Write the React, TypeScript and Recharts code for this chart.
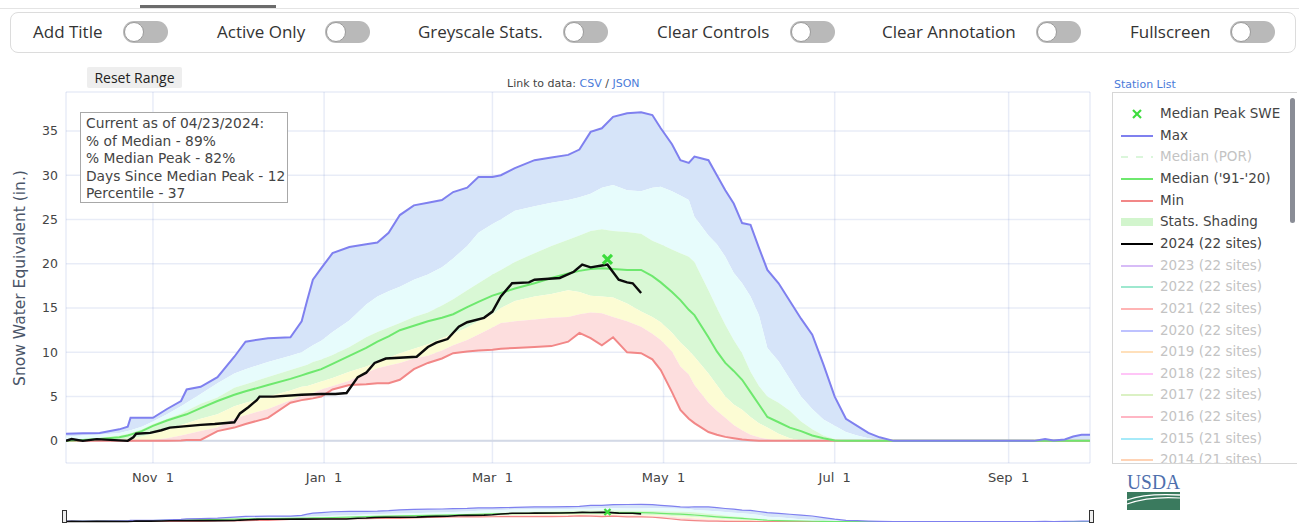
import React from "react";
import {
  Area,
  CartesianGrid,
  ComposedChart,
  Line,
  ReferenceLine,
  Scatter,
  XAxis,
  YAxis,
} from "recharts";

// day index 0 = Oct 1 (water year 2024)
const days = [
  0, 6, 12, 19, 22, 23, 27, 31, 36, 41, 43, 48, 54, 60, 64, 72, 80, 84, 86, 88,
  91, 95, 101, 107, 111, 115, 119, 124, 129, 134, 138, 143, 147, 152, 155, 160,
  167, 173, 179, 183, 187, 191, 195, 200, 205, 209, 212, 216, 219, 222, 224, 229,
  232, 235, 238, 241, 244, 247, 250, 254, 258, 262, 266, 270, 274, 278, 282, 286,
  290, 295, 320, 345, 349, 352, 356, 359, 362, 365,
];
const maxSwe = [
  0.8, 0.85, 0.9, 1.3, 1.6, 2.6, 2.6, 2.6, 3.6, 4.5, 5.8, 6.1, 7.2, 9.5, 11.2,
  11.6, 11.7, 13.5, 15.9, 18.2, 19.5, 21.2, 21.9, 22.2, 22.4, 23.5, 25.5, 26.6,
  26.9, 27.2, 28.1, 28.6, 29.8, 29.8, 30.0, 30.8, 31.7, 32.0, 32.3, 32.9, 34.9,
  35.3, 36.6, 37.0, 37.1, 36.8, 35.3, 33.5, 31.7, 31.4, 32.1, 31.7, 30.0, 28.3,
  26.8, 24.6, 24.4, 21.8, 19.3, 17.8, 15.8, 13.8, 12.0, 8.6, 5.0, 2.5, 1.7, 0.9,
  0.4, 0, 0, 0, 0.2, 0.05, 0.15, 0.5, 0.7, 0.7,
];
const p90 = [
  0.5, 0.6, 0.7, 0.9, 1.1, 1.2, 1.6, 2.2, 3.0, 3.9, 4.3, 5.3, 6.5, 7.6, 8.1, 8.9,
  9.6, 10.0, 10.4, 10.8, 11.3, 12.3, 13.6, 15.4, 16.3, 16.9, 17.4, 18.2, 18.8,
  19.6, 20.6, 22.0, 23.5, 24.5, 25.0, 26.0, 26.5, 26.9, 27.2, 27.5, 27.9, 28.6,
  28.9, 28.3, 28.2, 28.6, 28.7, 28.2, 27.7, 27.2, 25.3, 23.2, 22.2, 20.8, 19.0,
  17.8, 16.3, 14.2, 10.5, 9.0, 7.0, 5.0, 3.6, 2.4, 1.7, 1.0, 0.6, 0.3, 0.1, 0, 0,
  0, 0, 0, 0, 0, 0, 0,
];
const p70 = [
  0.1, 0.2, 0.35, 0.6, 0.8, 0.9, 1.3, 1.9, 2.5, 3.1, 3.4, 4.2, 4.9, 6.0, 6.4, 7.2,
  8.0, 8.4, 8.6, 8.9, 9.2, 9.7, 10.6, 11.7, 12.3, 12.8, 13.3, 14.0, 14.5, 15.3,
  16.0, 17.0, 17.8, 18.8, 19.3, 20.2, 21.2, 22.0, 22.7, 23.2, 23.7, 23.9, 23.7,
  23.6, 23.4, 22.6, 22.2, 21.6, 21.2, 20.8, 20.2, 17.0, 15.0, 13.1, 11.4, 9.9, 7.8,
  6.2, 5.0, 4.3, 3.4, 2.2, 1.3, 0.6, 0.2, 0, 0, 0, 0, 0, 0, 0, 0, 0, 0, 0, 0, 0,
];
const medianSwe = [
  0, 0.1, 0.2, 0.4, 0.6, 0.7, 1.1, 1.7, 2.3, 2.8, 3.0, 3.7, 4.5, 5.2, 5.6, 6.3,
  7.0, 7.4, 7.6, 7.8, 8.1, 8.7, 9.6, 10.5, 11.2, 11.8, 12.5, 13.0, 13.5, 13.9,
  14.3, 15.1, 15.7, 16.4, 16.7, 17.2, 17.8, 18.4, 18.9, 19.2, 19.4, 19.5, 19.4,
  19.3, 19.3, 18.6, 17.9, 16.8, 15.9, 14.8, 14.2, 11.7, 10.1, 8.8, 7.9, 6.9, 5.5,
  4.1, 2.7, 2.1, 1.5, 1.1, 0.6, 0.3, 0.05, 0, 0, 0, 0, 0, 0, 0, 0, 0, 0, 0, 0, 0,
];
const p30 = [
  0, 0, 0.05, 0.15, 0.25, 0.3, 0.5, 0.8, 1.3, 1.8, 2.0, 2.5, 3.0, 3.9, 4.3, 5.0,
  5.7, 6.1, 6.2, 6.4, 6.7, 7.1, 7.8, 8.4, 8.9, 9.4, 9.9, 10.4, 10.9, 11.6, 12.1,
  12.8, 13.5, 14.3, 15.0, 15.8, 16.3, 16.6, 17.0, 16.8, 16.4, 16.3, 16.2, 15.5,
  14.6, 14.0, 13.4, 12.2, 11.1, 10.2, 9.5, 7.6, 6.3, 5.0, 4.1, 3.5, 2.7, 2.0, 1.5,
  0.8, 0.3, 0.05, 0, 0, 0, 0, 0, 0, 0, 0, 0, 0, 0, 0, 0, 0, 0, 0,
];
const p10 = [
  0, 0, 0, 0, 0.02, 0.03, 0.05, 0.1, 0.3, 0.6, 0.75, 1.1, 1.5, 2.5, 2.9, 3.6, 4.6,
  5.1, 5.2, 5.4, 5.8, 6.2, 6.8, 7.7, 8.2, 8.5, 8.8, 9.3, 9.6, 10.2, 10.8, 11.4,
  12.0, 12.8, 13.3, 13.5, 13.7, 13.9, 14.0, 14.3, 14.5, 14.4, 14.0, 13.5, 12.9,
  12.1, 11.4, 10.1, 8.4, 7.5, 6.3, 4.3, 3.4, 2.6, 1.8, 1.2, 0.7, 0.4, 0.2, 0, 0,
  0, 0, 0, 0, 0, 0, 0, 0, 0, 0, 0, 0, 0, 0, 0, 0, 0,
];
const minSwe = [
  0, 0, 0, 0, 0, 0, 0, 0, 0, 0.05, 0.1, 0.1, 1.1, 1.5, 1.9, 2.6, 4.3, 4.6, 4.7,
  4.8, 5.0, 5.8, 6.3, 6.4, 6.5, 6.5, 6.9, 8.1, 8.8, 9.3, 9.9, 10.1, 10.2, 10.3,
  10.4, 10.5, 10.6, 10.7, 11.2, 12.2, 11.6, 10.8, 11.7, 10.0, 9.9, 9.2, 8.0, 5.5,
  3.5, 2.5, 2.0, 1.0, 0.7, 0.45, 0.3, 0.15, 0.08, 0.02, 0, 0, 0, 0, 0, 0, 0, 0, 0,
  0, 0, 0, 0, 0, 0, 0, 0, 0, 0, 0,
];

const days2024 = [
  0, 2, 6, 11, 22, 24, 25, 30, 34, 37, 48, 53, 60, 62, 65, 68, 69, 74, 84, 91, 96,
  100, 104, 107, 110, 114, 125, 129, 132, 136, 140, 143, 149, 152, 155, 159, 165,
  167, 176, 181, 184, 187, 191, 193, 197, 200, 202, 205,
];
const swe2024 = [
  0, 0.2, 0, 0.2, 0, 0.4, 0.8, 0.9, 1.2, 1.5, 1.8, 1.9, 2.1, 3.1, 3.8, 4.6, 5.0,
  5.0, 5.2, 5.3, 5.3, 5.4, 7.2, 7.7, 8.8, 9.3, 9.5, 10.6, 11.1, 11.5, 12.9, 13.4,
  13.9, 14.6, 16.3, 17.8, 17.9, 18.2, 18.4, 19.1, 19.9, 19.6, 19.8, 19.9, 18.2,
  17.9, 17.8, 16.7,
];

const medianPeak = [{ day: 193, swe: 20.5 }];

const tickDays = [31, 92, 152, 213, 274, 336];
const tickLabels = ["Nov \u00a01", "Jan \u00a01", "Mar \u00a01", "May \u00a01", "Jul \u00a01", "Sep \u00a01"];
const yTicks = [0, 5, 10, 15, 20, 25, 30, 35];

const annotationLines = [
  "Current as of 04/23/2024:",
  "% of Median - 89%",
  "% Median Peak - 82%",
  "Days Since Median Peak - 12",
  "Percentile - 37",
];

const controlLabels = [
  "Add Title",
  "Active Only",
  "Greyscale Stats.",
  "Clear Controls",
  "Clear Annotation",
  "Fullscreen",
];

const legendNames = [
  "Median Peak SWE",
  "Max",
  "Median (POR)",
  "Median ('91-'20)",
  "Min",
  "Stats. Shading",
  "2024 (22 sites)",
  "2023 (22 sites)",
  "2022 (22 sites)",
  "2021 (22 sites)",
  "2020 (22 sites)",
  "2019 (22 sites)",
  "2018 (22 sites)",
  "2017 (22 sites)",
  "2016 (22 sites)",
  "2015 (21 sites)",
  "2014 (21 sites)",
];

const statsTable = days.map((day, i) => ({
  day,
  max: maxSwe[i],
  p90: p90[i],
  p70: p70[i],
  median: medianSwe[i],
  p30: p30[i],
  p10: p10[i],
  min: minSwe[i],
}));
const table2024 = days2024.map((day, i) => ({ day, swe: swe2024[i] }));

const FONT_CHART = '"DejaVu Sans", Verdana, sans-serif';
const FONT_UI = '"Open Sans", "Noto Sans", sans-serif';

const C = {
  max: "#7f80ef",
  median: "#6ee86e",
  min: "#f28787",
  blue: "#d6e4f9",
  cyan: "#e7fcfc",
  green: "#d9f8d5",
  yellow: "#fcfcd4",
  red: "#fddede",
  peak: "#3ddc3d",
  grid: "rgba(120,145,205,0.17)",
};

// legend styling: [kind, colour, muted]
const legendStyle: [string, string, boolean][] = [
  ["x", C.peak, false],
  ["line", C.max, false],
  ["dash", "#b8eeb8", true],
  ["line", C.median, false],
  ["line", C.min, false],
  ["band", "#d2f5cd", false],
  ["marker", "#000", false],
  ["marker", "#b07cf0", true],
  ["marker", "#3fd3a0", true],
  ["marker", "#ff6b6b", true],
  ["marker", "#7f86ff", true],
  ["marker", "#ffc27a", true],
  ["marker", "#ff8cf0", true],
  ["marker", "#b9e58a", true],
  ["marker", "#ff6f8a", true],
  ["marker", "#4fd6f5", true],
  ["marker", "#ffa86e", true],
];

const bands: { key: string; lo: string; hi: string; fill: string }[] = [
  { key: "b-blue", lo: "p90", hi: "max", fill: C.blue },
  { key: "b-cyan", lo: "p70", hi: "p90", fill: C.cyan },
  { key: "b-green", lo: "p30", hi: "p70", fill: C.green },
  { key: "b-yellow", lo: "p10", hi: "p30", fill: C.yellow },
  { key: "b-red", lo: "min", hi: "p10", fill: C.red },
];

function PeakMark(props: any) {
  const { cx, cy, size = 5 } = props;
  if (cx == null || cy == null) return null;
  return (
    <g stroke={C.peak} strokeWidth={size > 4 ? 3.2 : 2.2} strokeLinecap="butt">
      <line x1={cx - size} y1={cy - size} x2={cx + size} y2={cy + size} />
      <line x1={cx - size} y1={cy + size} x2={cx + size} y2={cy - size} />
    </g>
  );
}

function Toggle({ left }: { left: number }) {
  return (
    <div
      style={{
        position: "absolute",
        left,
        top: 8,
        width: 45,
        height: 22,
        borderRadius: 11,
        background: "#b9b9b9",
      }}
    >
      <div
        style={{
          position: "absolute",
          left: 1,
          top: 1,
          width: 18,
          height: 18,
          borderRadius: 10,
          background: "#fff",
          border: "1px solid #9a9a9a",
        }}
      />
    </div>
  );
}

function LegendSymbol({ kind, color }: { kind: string; color: string }) {
  return (
    <svg width={36} height={14} style={{ position: "absolute", left: 6, top: 4 }}>
      {kind === "x" && <PeakMark cx={18} cy={7} size={4} />}
      {kind === "line" && <line x1={2} y1={7} x2={34} y2={7} stroke={color} strokeWidth={2} />}
      {kind === "dash" && (
        <line x1={2} y1={7} x2={34} y2={7} stroke={color} strokeWidth={2} strokeDasharray="7 8" />
      )}
      {kind === "band" && <rect x={2} y={3} width={32} height={8} fill={color} />}
      {kind === "marker" && (
        <g>
          <line x1={2} y1={7} x2={34} y2={7} stroke={color} strokeWidth={2} />
          <circle cx={18} cy={7} r={1} fill={color} />
        </g>
      )}
    </svg>
  );
}

function StatsLayers({ thin }: { thin?: boolean }) {
  const w = thin ? 1.2 : 2;
  return [
    ...bands.map((b) => (
      <Area
        key={b.key}
        data={statsTable}
        dataKey={(r: any) => [r[b.lo], r[b.hi]]}
        type="linear"
        stroke="none"
        fill={b.fill}
        fillOpacity={1}
        isAnimationActive={false}
        dot={false}
        activeDot={false}
      />
    )),
    thin ? null : (
      <CartesianGrid key="grid" stroke={C.grid} strokeWidth={1.5} horizontal vertical />
    ),
    thin ? null : <ReferenceLine key="zero" y={0} stroke="#d3d9e6" strokeWidth={2} />,
    <Line
      key="l-min"
      data={statsTable}
      dataKey="min"
      type="linear"
      stroke={C.min}
      strokeWidth={w}
      dot={false}
      isAnimationActive={false}
    />,
    <Line
      key="l-median"
      data={statsTable}
      dataKey="median"
      type="linear"
      stroke={C.median}
      strokeWidth={w}
      dot={false}
      isAnimationActive={false}
    />,
    <Line
      key="l-max"
      data={statsTable}
      dataKey="max"
      type="linear"
      stroke={C.max}
      strokeWidth={w}
      dot={false}
      isAnimationActive={false}
    />,
    <Line
      key="l-2024"
      data={table2024}
      dataKey="swe"
      type="linear"
      stroke="#0b0b0b"
      strokeWidth={thin ? 1.6 : 2.4}
      dot={false}
      isAnimationActive={false}
    />,
    <Scatter
      key="peak"
      data={medianPeak}
      dataKey="swe"
      fill={C.peak}
      shape={(p: any) => <PeakMark {...p} size={thin ? 3 : 4.5} />}
      isAnimationActive={false}
    />,
  ];
}

export default function App() {
  return (
    <div
      style={{
        position: "absolute",
        left: 0,
        top: 0,
        width: 1299,
        height: 523,
        overflow: "hidden",
        background: "#fff",
        fontFamily: FONT_CHART,
      }}
    >
      {/* tab strip */}
      <div style={{ position: "absolute", left: 0, top: 8, width: 1299, height: 1, background: "#e4e4e4" }} />
      <div style={{ position: "absolute", left: 140, top: 5, width: 136, height: 3, background: "#6b6b6b" }} />

      {/* controls */}
      <div
        style={{
          position: "absolute",
          left: 10,
          top: 12,
          width: 1284,
          height: 39,
          border: "1px solid #dcdcdc",
          borderRadius: 8,
          fontFamily: FONT_UI,
          fontSize: 17,
          color: "#333",
        }}
      >
        {controlLabels.map((label, i) => {
          const textLeft = [22, 206, 407, 646, 871, 1119][i];
          const toggleLeft = [112, 314, 552, 779, 1025, 1219][i];
          return (
            <React.Fragment key={label}>
              <div style={{ position: "absolute", left: textLeft, top: 7, whiteSpace: "nowrap", lineHeight: "24px" }}>
                {label}
              </div>
              <Toggle left={toggleLeft} />
            </React.Fragment>
          );
        })}
      </div>

      {/* reset range */}
      <div
        style={{
          position: "absolute",
          left: 87,
          top: 67,
          width: 95,
          height: 21,
          background: "#eeeeee",
          borderRadius: 2,
          fontFamily: FONT_UI,
          fontSize: 14,
          lineHeight: "21px",
          textAlign: "center",
          color: "#222",
        }}
      >
        Reset Range
      </div>

      <div style={{ position: "absolute", left: 507, top: 77, fontSize: 11, color: "#444", whiteSpace: "nowrap" }}>
        Link to data: <span style={{ color: "#4b7bd9" }}>CSV</span> / <span style={{ color: "#4b7bd9" }}>JSON</span>
      </div>
      <div style={{ position: "absolute", left: 1114, top: 78, fontSize: 11, color: "#4b7bd9", whiteSpace: "nowrap" }}>
        Station List
      </div>

      {/* y title */}
      <div
        style={{
          position: "absolute",
          left: 20,
          top: 278,
          transform: "translate(-50%, -50%) rotate(-90deg)",
          whiteSpace: "nowrap",
          fontSize: 15.5,
          color: "#4a5568",
        }}
      >
        Snow Water Equivalent (in.)
      </div>

      {/* main chart */}
      <div style={{ position: "absolute", left: 0, top: 80 }}>
        <ComposedChart
          width={1100}
          height={420}
          data={statsTable}
          margin={{ top: 12, right: 10, bottom: 7, left: 6 }}
        >
          <XAxis
            dataKey="day"
            type="number"
            domain={[0, 365]}
            allowDataOverflow
            ticks={tickDays}
            tickFormatter={(v: number) => tickLabels[tickDays.indexOf(v)] ?? ""}
            axisLine={false}
            tickLine={false}
            tickMargin={4}
            height={30}
            tick={{ fontSize: 13, fill: "#444", fontFamily: FONT_CHART }}
          />
          <YAxis
            type="number"
            domain={[-2.5, 39.4]}
            allowDataOverflow
            ticks={yTicks}
            axisLine={false}
            tickLine={false}
            width={60}
            tick={{ fontSize: 12.5, fill: "#444", fontFamily: FONT_CHART }}
          />
          {StatsLayers({})}
        </ComposedChart>
      </div>

      {/* annotation */}
      <div
        style={{
          position: "absolute",
          left: 80,
          top: 112,
          width: 208,
          height: 91,
          border: "1px solid #a8a8a8",
          background: "#fff",
          fontSize: 13.8,
          color: "#444",
          lineHeight: "17.6px",
          padding: "2px 0 0 5px",
          boxSizing: "border-box",
          whiteSpace: "nowrap",
        }}
      >
        {annotationLines.map((t) => (
          <div key={t}>{t}</div>
        ))}
      </div>

      {/* legend */}
      <div
        style={{
          position: "absolute",
          left: 1112,
          top: 92,
          width: 184,
          height: 370,
          border: "1px solid #d6d6d6",
          borderRight: "none",
          overflow: "hidden",
          fontSize: 13.5,
        }}
      >
        {legendNames.map((name, i) => {
          const [kind, color, muted] = legendStyle[i];
          return (
            <div
              key={name}
              style={{
                position: "absolute",
                left: 0,
                top: 10 + i * 21.65,
                width: 180,
                height: 22,
                opacity: muted ? 0.5 : 1,
              }}
            >
              <LegendSymbol kind={kind} color={color} />
              <div
                style={{
                  position: "absolute",
                  left: 47,
                  top: 2,
                  whiteSpace: "nowrap",
                  color: muted ? "#888" : "#444",
                }}
              >
                {name}
              </div>
            </div>
          );
        })}
        <div
          style={{
            position: "absolute",
            left: 177,
            top: 5,
            width: 5,
            height: 125,
            borderRadius: 3,
            background: "#8a8d96",
          }}
        />
      </div>

      {/* USDA */}
      <svg width={58} height={44} style={{ position: "absolute", left: 1125, top: 467 }}>
        <text
          x={2}
          y={22}
          fontFamily='"Liberation Serif", serif'
          fontSize={21}
          fill="#4e6fad"
          textLength={53}
          lengthAdjust="spacingAndGlyphs"
        >
          USDA
        </text>
        <rect x={2} y={25} width={53} height={18} fill="#3a7a5e" />
        <path d="M2 33 Q 21 26 55 28" stroke="#fff" strokeWidth={1.3} fill="none" />
        <path d="M2 37 Q 25 29 55 31" stroke="#fff" strokeWidth={1.1} fill="none" />
      </svg>

      {/* range slider */}
      <div style={{ position: "absolute", left: 0, top: 500 }}>
        <ComposedChart
          width={1100}
          height={30}
          data={statsTable}
          margin={{ top: 0, right: 10, bottom: 0, left: 66 }}
        >
          <XAxis dataKey="day" type="number" domain={[0, 365]} hide allowDataOverflow />
          <YAxis type="number" domain={[-18.5, 46.8]} hide allowDataOverflow />
          {StatsLayers({ thin: true })}
        </ComposedChart>
      </div>
      <div
        style={{
          position: "absolute",
          left: 62,
          top: 510,
          width: 3,
          height: 11,
          border: "1px solid #333",
          background: "#eee",
        }}
      />
      <div
        style={{
          position: "absolute",
          left: 1089,
          top: 510,
          width: 3,
          height: 11,
          border: "1px solid #333",
          background: "#eee",
        }}
      />
    </div>
  );
}
